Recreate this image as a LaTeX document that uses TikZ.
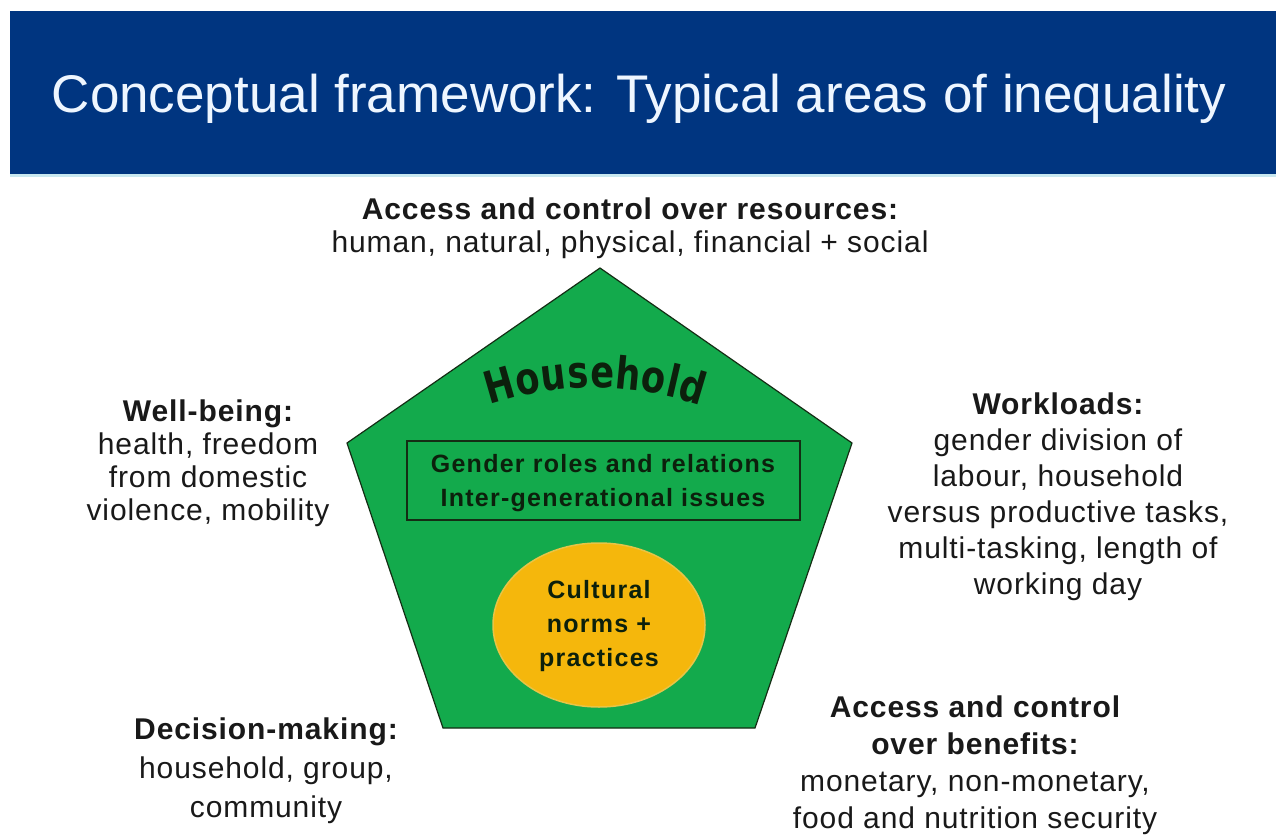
\documentclass[tikz,border=0pt]{standalone}
\usepackage{fontspec}
\setmainfont{Liberation Sans}
\newfontfamily\bodyfont[LetterSpace=3]{Liberation Sans}
\newfontfamily\innerfont[LetterSpace=5]{Liberation Sans}
\newfontfamily\hhfont{DejaVu Sans}
\usetikzlibrary{calc}
\definecolor{banner}{RGB}{0,53,128}
\definecolor{bannerline}{RGB}{200,232,240}
\definecolor{titlewhite}{RGB}{238,246,255}
\definecolor{txt}{RGB}{25,25,25}
\definecolor{pentgreen}{RGB}{19,170,76}
\definecolor{pentline}{RGB}{20,45,20}
\definecolor{darkgreen}{RGB}{12,32,12}
\definecolor{ellfill}{RGB}{245,183,12}
\definecolor{ellrim}{RGB}{232,196,70}
\begin{document}
\begin{tikzpicture}[x=1pt,y=-1pt,
  lbl/.style={align=center, text=txt, inner sep=0pt, anchor=base,
    font=\bodyfont\fontsize{30}{#1}\selectfont},
  inner/.style={align=center, text=darkgreen, inner sep=0pt, anchor=base,
    font=\innerfont\bfseries\fontsize{25}{#1}\selectfont},
  hletter/.style={inner sep=0pt, anchor=base, text=darkgreen,
    font=\hhfont\bfseries\fontsize{37}{40}\selectfont}
]
\useasboundingbox (0,0) rectangle (1276,837);
\fill[white] (0,0) rectangle (1276,837);
% banner
\fill[banner] (10,11) rectangle (1276,174);
\fill[bannerline] (10,174) rectangle (1276,177);
\node[anchor=base, inner sep=0pt, text=titlewhite,
  font=\fontsize{53}{60}\selectfont] (title) at (639,113)
  {Conceptual framework: Typical areas of inequality};
% pentagon
\draw[fill=pentgreen, draw=pentline, line width=1.2pt, line join=miter]
  (600,268) -- (852,443) -- (755,728) -- (443,728) -- (347,443) -- cycle;
% Household arched word
\coordinate (hc) at (595,721);
\foreach \c/\t in {H/-16.0, o/-11.2, u/-6.9, s/-2.8, e/1.2, h/5.5, o/9.8, l/13.1, d/16.4}{
  \node[hletter, rotate=-\t] at ($(hc)+(-90+\t:333)$) {\scalebox{0.95}[1.2]{\c}};
}
% inner rectangle
\draw[draw=pentline, line width=1.2pt] (407,441) rectangle (800,520);
\node[inner=34] (roles) at (603,506)
  {Gender roles and relations\\Inter-generational issues};
% ellipse
\draw[fill=ellfill, draw=ellrim, line width=1.5pt] (599,625) ellipse [x radius=106, y radius=82];
\node[inner=34] (norms) at (599,666) {Cultural\\norms +\\practices};
% surrounding labels
\node[lbl=33] (resources) at (630,252)
  {\bfseries Access and control over resources:\\human, natural, physical, financial + social};
\node[lbl=33] (wellbeing) at (208,520)
  {\bfseries Well-being:\\health, freedom\\from domestic\\violence, mobility};
\node[lbl=36] (workloads) at (1058,594)
  {\bfseries Workloads:\\gender division of\\labour, household\\versus productive tasks,\\multi-tasking, length of\\working day};
\node[lbl=39] (decision) at (266,817)
  {\bfseries Decision-making:\\household, group,\\community};
\node[lbl=37] (benefits) at (975,828)
  {\bfseries Access and control\\\bfseries over benefits:\\monetary, non-monetary,\\food and nutrition security};
\end{tikzpicture}
\end{document}
